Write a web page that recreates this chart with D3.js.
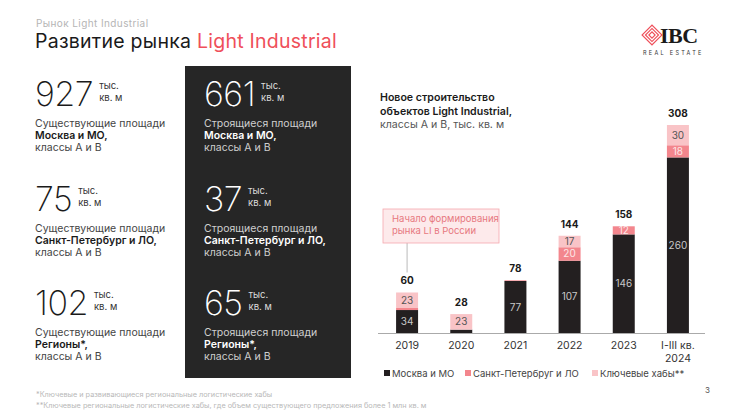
<!DOCTYPE html>
<html><head><meta charset="utf-8">
<script src="https://cdn.jsdelivr.net/npm/d3@7"></script>
<style>
html,body{margin:0;padding:0;background:#fff;}
svg{display:block;font-family:Inter,"Noto Sans",sans-serif;}
</style></head>
<body><svg id="c" width="741" height="417"></svg>
<script>
const categories = ["2019","2020","2021","2022","2023","I-III кв.|2024"];
const moscow = [34, 5, 77, 107, 146, 260];
const spb = [3, 0, 1, 20, 12, 18];
const hubs = [23, 23, 0, 17, 0, 30];
const totals = [60, 28, 78, 144, 158, 308];
const seriesNames = ["Москва и МО", "Санкт-Петербруг и ЛО", "Ключевые хабы**"];
const seriesColors = ["#231f20", "#f3868d", "#f9c4c7"];

const existingNums = ["927", "75", "102"];
const buildingNums = ["661", "37", "65"];
const regionNames = ["Москва и МО,", "Санкт-Петербург и ЛО,", "Регионы*,"];

const svg = d3.select("#c");
const red = "#ef4f5a";

// header
svg.append("text").attr("x",36).attr("y",27).attr("font-size",10).attr("fill","#b5b5b5").attr("letter-spacing",0.4).text("Рынок Light Industrial");
const t = svg.append("text").attr("x",35).attr("y",48).attr("font-size",19.5).attr("fill","#1a1a1a").attr("letter-spacing",0.25);
t.append("tspan").text("Развитие рынка ");
t.append("tspan").attr("fill",red).text("Light Industrial");

// logo
const lg = svg.append("g").attr("transform","translate(652,35)");
[0,3,6].forEach(d=>{
  lg.append("rect").attr("x",-7).attr("y",-7).attr("width",14-d*1.6).attr("height",14-d*1.6)
    .attr("transform",`translate(${d*0.8},${d*0.8}) rotate(45,${-d*0.8},${-d*0.8})`)
    .attr("fill","none").attr("stroke",red).attr("stroke-width",1.2);
});
svg.append("text").attr("x",660).attr("y",43).attr("font-family","Liberation Serif,serif").attr("font-size",22).attr("font-weight",700).attr("fill","#1a1a1a").attr("letter-spacing",-0.5).text("IBC");
svg.append("text").attr("x",643).attr("y",55).attr("font-size",5.5).attr("fill","#333").attr("letter-spacing",2.3).text("REAL ESTATE");

// dark panel
svg.append("rect").attr("x",185).attr("y",66).attr("width",166).attr("height",312).attr("fill","#262626");

function block(x, y0, num, line1, region, dark){
  const n = svg.append("text").attr("x",x).attr("y",y0).attr("font-size",34).attr("font-weight",200)
    .attr("fill", dark ? "#fff" : "#1a1a1a").attr("letter-spacing",-0.5).text(num);
  const w = n.node().getComputedTextLength();
  svg.append("text").attr("x",x+w+6).attr("y",y0-17).attr("font-size",9.5).attr("fill",dark?"#ddd":"#333").text("тыс.");
  svg.append("text").attr("x",x+w+6).attr("y",y0-5).attr("font-size",9.5).attr("fill",dark?"#ddd":"#333").text("кв. м");
  svg.append("text").attr("x",x).attr("y",y0+21).attr("font-size",10.5).attr("fill",dark?"#cfcfcf":"#444").text(line1);
  svg.append("text").attr("x",x).attr("y",y0+33).attr("font-size",10.5).attr("font-weight",600).attr("fill",dark?"#fff":"#1a1a1a").text(region);
  svg.append("text").attr("x",x).attr("y",y0+45).attr("font-size",10.5).attr("fill",dark?"#cfcfcf":"#444").text("классы А и В");
}
[106,211,315].forEach((y,i)=>{
  block(35, y, existingNums[i], "Существующие площади", regionNames[i], false);
  block(204, y, buildingNums[i], "Строящиеся площади", regionNames[i], true);
});

// chart title
const ct = [["Новое строительство",600,"#1a1a1a"],["объектов Light Industrial,",600,"#1a1a1a"],["классы А и В, тыс. кв. м",400,"#555"]];
ct.forEach((d,i)=>svg.append("text").attr("x",380).attr("y",101+i*13.5).attr("font-size",10.6).attr("font-weight",d[1]).attr("fill",d[2]).text(d[0]));

// scales
const x = d3.scaleBand().domain(categories).range([380,705]).paddingInner(0.594).paddingOuter(0.297);
const y = d3.scaleLinear().domain([0,308]).range([333,125]);

const rows = categories.map((c,i)=>({cat:c, m:moscow[i], s:spb[i], h:hubs[i], total:totals[i]}));
const stack = d3.stack().keys(["m","s","h"])(rows);

const g = svg.append("g");
stack.forEach((layer,li)=>{
  g.selectAll(null).data(layer).enter().append("rect")
    .attr("x",d=>x(d.data.cat)).attr("width",x.bandwidth())
    .attr("y",d=>y(d[1])).attr("height",d=>y(d[0])-y(d[1]))
    .attr("fill",seriesColors[li]);
  const labColors = ["#c8c8c8","#fde6e7","#555"];
  g.selectAll(null).data(layer.filter(d=>(d[1]-d[0])>=10)).enter().append("text")
    .attr("x",d=>x(d.data.cat)+x.bandwidth()/2).attr("y",d=>(y(d[0])+y(d[1]))/2+3.5)
    .attr("text-anchor","middle").attr("font-size",10).attr("fill",labColors[li])
    .text(d=>d[1]-d[0]);
});
// totals
g.selectAll(null).data(rows).enter().append("text")
  .attr("x",d=>x(d.cat)+x.bandwidth()/2).attr("y",d=>y(d.total)-8)
  .attr("text-anchor","middle").attr("font-size",10).attr("font-weight",700).attr("fill","#1a1a1a")
  .text(d=>d.total);

// axis
const ax = svg.append("g").attr("transform","translate(0,333)")
  .call(d3.axisBottom(x).tickSize(0).tickFormat(""));
ax.select(".domain").attr("stroke","#aaa").attr("d","M378,0.5H705");
ax.selectAll(".tick").each(function(d){
  const parts = d.split("|");
  const sel = d3.select(this);
  parts.forEach((p,i)=>sel.append("text").attr("y",16+i*12.5).attr("text-anchor","middle")
    .attr("font-size",10.5).attr("fill","#333").attr("font-family","Inter,sans-serif").text(p));
});

// annotation
const ax0 = x(categories[0])+x.bandwidth()/2;
svg.append("line").attr("x1",ax0).attr("x2",ax0).attr("y1",243).attr("y2",y(totals[0])-20).attr("stroke","#aaa").attr("stroke-width",0.8);
svg.append("rect").attr("x",383).attr("y",209).attr("width",116).attr("height",34).attr("fill","#fdeaeb").attr("stroke","#f4a9ae").attr("stroke-width",0.8);
svg.append("text").attr("x",392).attr("y",222).attr("font-size",9.5).attr("fill","#e77880").text("Начало формирования");
svg.append("text").attr("x",392).attr("y",234).attr("font-size",9.5).attr("fill","#e77880").text("рынка LI в России");

// legend
const legX = [384, 465, 592];
seriesNames.forEach((n,i)=>{
  svg.append("rect").attr("x",legX[i]).attr("y",370).attr("width",6).attr("height",6).attr("fill",seriesColors[i]);
  svg.append("text").attr("x",legX[i]+8).attr("y",376.5).attr("font-size",9.5).attr("fill","#444").text(n);
});

// footnotes
svg.append("text").attr("x",36).attr("y",397).attr("font-size",7.3).attr("fill","#b8b8b8").text("*Ключевые и развивающиеся региональные логистические хабы");
svg.append("text").attr("x",36).attr("y",408).attr("font-size",7.3).attr("fill","#b8b8b8").text("**Ключевые региональные логистические хабы, где объем существующего предложения более 1 млн кв. м");
svg.append("text").attr("x",705).attr("y",393).attr("font-size",8).attr("fill","#555").text("3");
</script></body></html>
